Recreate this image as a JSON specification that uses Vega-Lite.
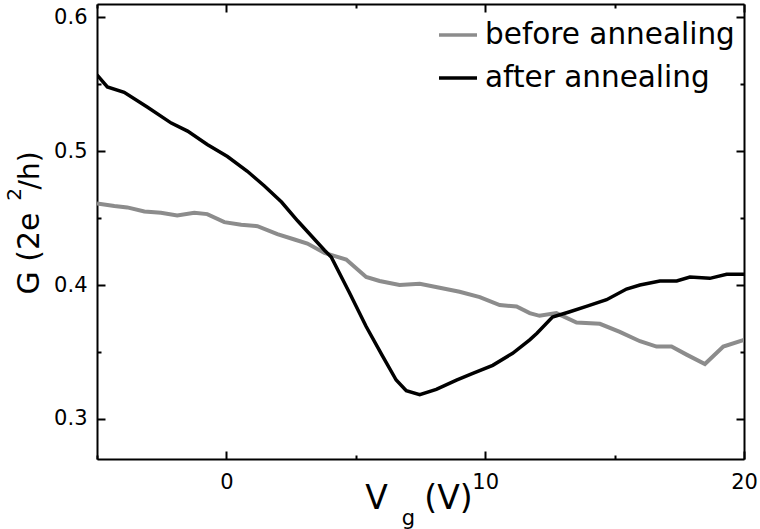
{
  "$schema": "https://vega.github.io/schema/vega-lite/v6.json",
  "width": 647,
  "height": 455,
  "autosize": {"type": "none"},
  "padding": {"left": 97, "top": 4, "right": 16, "bottom": 70},
  "background": "white",
  "config": {
    "font": "DejaVu Sans",
    "view": {"stroke": null},
    "axis": {"grid": false, "domainColor": "black", "domainWidth": 2, "tickColor": "black", "tickWidth": 2, "labelColor": "black", "titleColor": "black", "labelFlush": false, "titleFontWeight": "normal"}
  },
  "data": {
    "values": [
      {"series": "before annealing", "Vg": -5, "G": 0.461},
      {"series": "before annealing", "Vg": -4.33, "G": 0.459},
      {"series": "before annealing", "Vg": -3.83, "G": 0.458},
      {"series": "before annealing", "Vg": -3.17, "G": 0.455},
      {"series": "before annealing", "Vg": -2.53, "G": 0.454},
      {"series": "before annealing", "Vg": -1.9, "G": 0.452},
      {"series": "before annealing", "Vg": -1.24, "G": 0.454},
      {"series": "before annealing", "Vg": -0.74, "G": 0.453},
      {"series": "before annealing", "Vg": -0.08, "G": 0.447},
      {"series": "before annealing", "Vg": 0.57, "G": 0.445},
      {"series": "before annealing", "Vg": 1.2, "G": 0.444},
      {"series": "before annealing", "Vg": 1.97, "G": 0.438},
      {"series": "before annealing", "Vg": 2.63, "G": 0.434},
      {"series": "before annealing", "Vg": 3.13, "G": 0.431},
      {"series": "before annealing", "Vg": 3.79, "G": 0.424},
      {"series": "before annealing", "Vg": 4.63, "G": 0.419},
      {"series": "before annealing", "Vg": 5.4, "G": 0.406},
      {"series": "before annealing", "Vg": 5.92, "G": 0.403},
      {"series": "before annealing", "Vg": 6.69, "G": 0.4},
      {"series": "before annealing", "Vg": 7.47, "G": 0.401},
      {"series": "before annealing", "Vg": 8.24, "G": 0.398},
      {"series": "before annealing", "Vg": 9.01, "G": 0.395},
      {"series": "before annealing", "Vg": 9.79, "G": 0.391},
      {"series": "before annealing", "Vg": 10.56, "G": 0.385},
      {"series": "before annealing", "Vg": 11.21, "G": 0.384},
      {"series": "before annealing", "Vg": 11.72, "G": 0.379},
      {"series": "before annealing", "Vg": 12.1, "G": 0.377},
      {"series": "before annealing", "Vg": 12.75, "G": 0.379},
      {"series": "before annealing", "Vg": 13.53, "G": 0.372},
      {"series": "before annealing", "Vg": 14.43, "G": 0.371},
      {"series": "before annealing", "Vg": 15.2, "G": 0.365},
      {"series": "before annealing", "Vg": 15.98, "G": 0.358},
      {"series": "before annealing", "Vg": 16.62, "G": 0.354},
      {"series": "before annealing", "Vg": 17.2, "G": 0.354},
      {"series": "before annealing", "Vg": 17.78, "G": 0.348},
      {"series": "before annealing", "Vg": 18.49, "G": 0.341},
      {"series": "before annealing", "Vg": 19.2, "G": 0.354},
      {"series": "before annealing", "Vg": 20, "G": 0.359},
      {"series": "after annealing", "Vg": -5, "G": 0.557},
      {"series": "after annealing", "Vg": -4.6, "G": 0.548},
      {"series": "after annealing", "Vg": -3.95, "G": 0.544},
      {"series": "after annealing", "Vg": -3.06, "G": 0.533},
      {"series": "after annealing", "Vg": -2.13, "G": 0.521},
      {"series": "after annealing", "Vg": -1.5, "G": 0.515},
      {"series": "after annealing", "Vg": -0.74, "G": 0.505},
      {"series": "after annealing", "Vg": 0.04, "G": 0.496},
      {"series": "after annealing", "Vg": 0.81, "G": 0.485},
      {"series": "after annealing", "Vg": 1.47, "G": 0.474},
      {"series": "after annealing", "Vg": 2.13, "G": 0.462},
      {"series": "after annealing", "Vg": 2.75, "G": 0.448},
      {"series": "after annealing", "Vg": 3.79, "G": 0.426},
      {"series": "after annealing", "Vg": 4.05, "G": 0.421},
      {"series": "after annealing", "Vg": 4.76, "G": 0.394},
      {"series": "after annealing", "Vg": 5.4, "G": 0.369},
      {"series": "after annealing", "Vg": 6.03, "G": 0.347},
      {"series": "after annealing", "Vg": 6.56, "G": 0.329},
      {"series": "after annealing", "Vg": 6.95, "G": 0.321},
      {"series": "after annealing", "Vg": 7.47, "G": 0.318},
      {"series": "after annealing", "Vg": 8.11, "G": 0.322},
      {"series": "after annealing", "Vg": 8.89, "G": 0.329},
      {"series": "after annealing", "Vg": 9.52, "G": 0.334},
      {"series": "after annealing", "Vg": 10.29, "G": 0.34},
      {"series": "after annealing", "Vg": 11.06, "G": 0.349},
      {"series": "after annealing", "Vg": 11.72, "G": 0.359},
      {"series": "after annealing", "Vg": 12.0, "G": 0.364},
      {"series": "after annealing", "Vg": 12.6, "G": 0.376},
      {"series": "after annealing", "Vg": 13.27, "G": 0.38},
      {"series": "after annealing", "Vg": 13.91, "G": 0.384},
      {"series": "after annealing", "Vg": 14.69, "G": 0.389},
      {"series": "after annealing", "Vg": 15.46, "G": 0.397},
      {"series": "after annealing", "Vg": 15.98, "G": 0.4},
      {"series": "after annealing", "Vg": 16.75, "G": 0.403},
      {"series": "after annealing", "Vg": 17.4, "G": 0.403},
      {"series": "after annealing", "Vg": 17.91, "G": 0.406},
      {"series": "after annealing", "Vg": 18.68, "G": 0.405},
      {"series": "after annealing", "Vg": 19.33, "G": 0.408},
      {"series": "after annealing", "Vg": 20, "G": 0.408}
    ]
  },
  "resolve": {"axis": {"x": "independent", "y": "independent"}},
  "layer": [
    {
      "transform": [{"filter": "datum.series === 'before annealing'"}],
      "mark": {"type": "line", "strokeWidth": 4, "clip": true},
      "encoding": {
        "x": {"field": "Vg", "type": "quantitative", "scale": {"domain": [-5, 20], "nice": false, "zero": false},
          "axis": {"orient": "bottom", "values": [0, 10, 20], "tickSize": -8, "labelFontSize": 21, "labelPadding": 20, "title": "V", "titleFontSize": 33, "titleX": 279, "titleY": 49, "titleAlign": "center", "titleBaseline": "alphabetic"}},
        "y": {"field": "G", "type": "quantitative", "scale": {"domain": [0.27, 0.61], "nice": false, "zero": false},
          "axis": {"orient": "left", "values": [0.3, 0.4, 0.5, 0.6], "format": ".1f", "tickSize": -8, "labelFontSize": 21, "labelPadding": 18, "title": "G (2e", "titleFontSize": 30, "titleAngle": 270, "titleX": -59, "titleY": 249, "titleAlign": "center", "titleBaseline": "alphabetic"}},
        "color": {"field": "series", "type": "nominal",
          "scale": {"domain": ["before annealing", "after annealing"], "range": ["#8c8c8c", "#000000"]},
          "legend": {"title": null, "orient": "none", "legendX": 340, "legendY": 10, "symbolType": "stroke", "symbolSize": 1444, "symbolStrokeWidth": 3.5, "labelFontSize": 29.5, "labelColor": "black", "labelOffset": 6, "rowPadding": 7, "labelLimit": 400}}
      }
    },
    {
      "transform": [{"filter": "datum.series === 'after annealing'"}],
      "mark": {"type": "line", "strokeWidth": 3.5, "clip": true},
      "encoding": {
        "x": {"field": "Vg", "type": "quantitative", "axis": {"orient": "bottom", "values": [-5, 5, 15], "tickSize": -4, "labels": false, "domain": false, "title": "g", "titleFontSize": 21, "titleX": 311, "titleY": 65, "titleAlign": "center", "titleBaseline": "alphabetic"}},
        "y": {"field": "G", "type": "quantitative", "axis": {"orient": "left", "values": [0.35, 0.45, 0.55], "tickSize": -4, "labels": false, "domain": false, "title": "2", "titleFontSize": 20, "titleAngle": 270, "titleX": -77, "titleY": 190, "titleAlign": "center", "titleBaseline": "alphabetic"}},
        "color": {"field": "series", "type": "nominal"}
      }
    },
    {
      "mark": {"type": "line", "strokeOpacity": 0},
      "encoding": {
        "x": {"field": "Vg", "type": "quantitative", "axis": {"orient": "top", "values": [0, 10, 20], "tickSize": -8, "labels": false, "title": "(V)", "titleFontSize": 33, "titleX": 351, "titleY": 504, "titleAlign": "center", "titleBaseline": "alphabetic"}},
        "y": {"field": "G", "type": "quantitative", "axis": {"orient": "right", "values": [0.3, 0.4, 0.5, 0.6], "tickSize": -8, "labels": false, "title": "/h)", "titleFontSize": 28, "titleAngle": 270, "titleX": -706, "titleY": 166, "titleAlign": "center", "titleBaseline": "alphabetic"}},
        "detail": {"field": "series"}
      }
    },
    {
      "mark": {"type": "line", "strokeOpacity": 0},
      "encoding": {
        "x": {"field": "Vg", "type": "quantitative", "axis": {"orient": "top", "values": [-5, 5, 15], "tickSize": -4, "labels": false, "domain": false, "title": null}},
        "y": {"field": "G", "type": "quantitative", "axis": {"orient": "right", "values": [0.35, 0.45, 0.55], "tickSize": -4, "labels": false, "domain": false, "title": null}},
        "detail": {"field": "series"}
      }
    }
  ]
}
